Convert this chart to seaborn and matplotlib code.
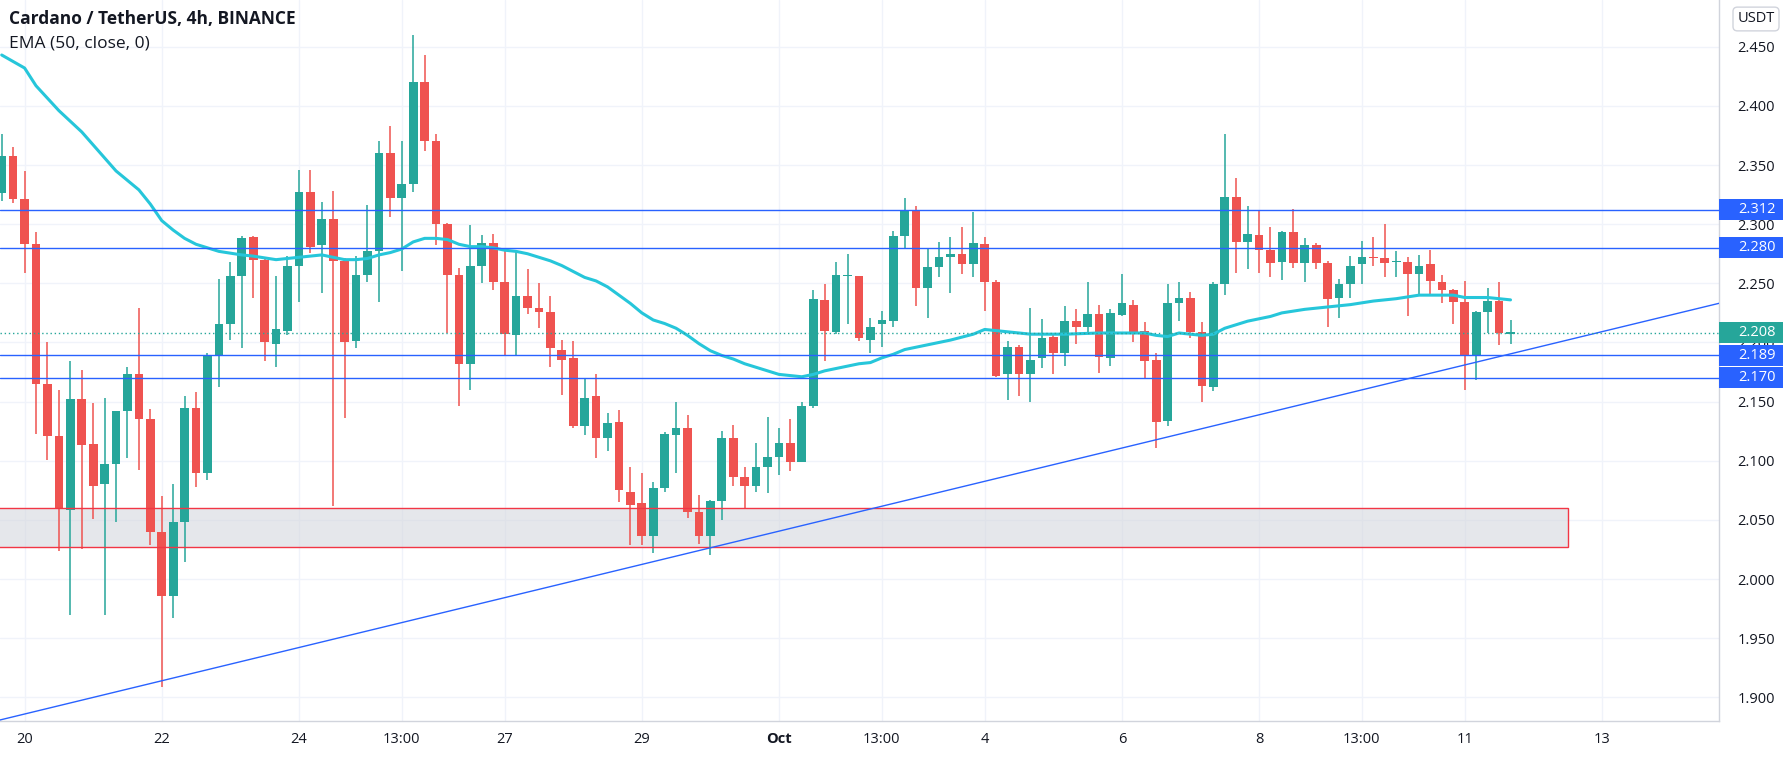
import numpy as np
import pandas as pd
import matplotlib
matplotlib.use("Agg")
import matplotlib.pyplot as plt
import matplotlib.transforms as mtrans
from matplotlib.patches import Rectangle
import seaborn as sns

# ---------------- data (ADA/USDT 4h candles) ----------------
opens = [2.326, 2.358, 2.321, 2.283, 2.165, 2.121, 2.058, 2.152, 2.114, 2.080,
         2.097, 2.142, 2.173, 2.135, 2.040, 1.986, 2.048, 2.145, 2.090, 2.189,
         2.216, 2.256, 2.289, 2.270, 2.199, 2.210, 2.265, 2.327, 2.282, 2.304,
         2.269, 2.201, 2.257, 2.277, 2.360, 2.322, 2.334, 2.420, 2.370, 2.300,
         2.257, 2.182, 2.265, 2.284, 2.251, 2.206, 2.239, 2.229, 2.226, 2.194,
         2.187, 2.129, 2.155, 2.119, 2.133, 2.074, 2.064, 2.036, 2.077, 2.122,
         2.128, 2.057, 2.036, 2.066, 2.119, 2.086, 2.079, 2.095, 2.103, 2.115,
         2.099, 2.146, 2.236, 2.209, 2.256, 2.256, 2.202, 2.216, 2.218, 2.290,
         2.311, 2.246, 2.264, 2.272, 2.275, 2.266, 2.283, 2.251, 2.173, 2.196,
         2.173, 2.187, 2.205, 2.191, 2.218, 2.213, 2.224, 2.187, 2.223, 2.232,
         2.210, 2.185, 2.134, 2.233, 2.238, 2.209, 2.162, 2.249, 2.323, 2.285,
         2.291, 2.278, 2.268, 2.293, 2.267, 2.282, 2.267, 2.238, 2.249, 2.266,
         2.272, 2.271, 2.268, 2.268, 2.258, 2.266, 2.251, 2.244, 2.234, 2.189,
         2.226, 2.235, 2.2075]
highs = [2.376, 2.365, 2.345, 2.293, 2.200, 2.160, 2.184, 2.177, 2.149, 2.153,
         2.142, 2.179, 2.229, 2.144, 2.070, 2.080, 2.155, 2.158, 2.191, 2.254,
         2.268, 2.290, 2.290, 2.271, 2.256, 2.273, 2.346, 2.346, 2.319, 2.328,
         2.271, 2.273, 2.316, 2.370, 2.383, 2.370, 2.460, 2.443, 2.376, 2.301,
         2.263, 2.299, 2.291, 2.292, 2.277, 2.277, 2.262, 2.250, 2.239, 2.202,
         2.201, 2.169, 2.173, 2.140, 2.143, 2.095, 2.090, 2.082, 2.124, 2.150,
         2.139, 2.071, 2.067, 2.125, 2.130, 2.095, 2.115, 2.137, 2.128, 2.135,
         2.150, 2.244, 2.249, 2.268, 2.275, 2.256, 2.221, 2.227, 2.294, 2.322,
         2.315, 2.279, 2.285, 2.289, 2.298, 2.310, 2.289, 2.253, 2.201, 2.198,
         2.229, 2.220, 2.208, 2.231, 2.228, 2.251, 2.232, 2.228, 2.258, 2.236,
         2.217, 2.191, 2.249, 2.251, 2.243, 2.217, 2.251, 2.376, 2.339, 2.315,
         2.312, 2.298, 2.294, 2.313, 2.288, 2.284, 2.269, 2.254, 2.273, 2.286,
         2.289, 2.300, 2.277, 2.272, 2.274, 2.278, 2.257, 2.245, 2.252, 2.227,
         2.246, 2.251, 2.219]
lows = [2.320, 2.318, 2.259, 2.123, 2.101, 2.024, 1.970, 2.025, 2.051, 1.970,
        2.048, 2.102, 2.092, 2.029, 1.909, 1.967, 2.014, 2.078, 2.084, 2.162,
        2.202, 2.195, 2.238, 2.184, 2.179, 2.206, 2.234, 2.276, 2.242, 2.062,
        2.136, 2.195, 2.251, 2.234, 2.306, 2.260, 2.327, 2.362, 2.282, 2.208,
        2.146, 2.160, 2.250, 2.244, 2.189, 2.189, 2.224, 2.212, 2.179, 2.156,
        2.128, 2.122, 2.102, 2.108, 2.065, 2.029, 2.029, 2.022, 2.074, 2.090,
        2.052, 2.030, 2.020, 2.050, 2.079, 2.059, 2.074, 2.073, 2.088, 2.091,
        2.099, 2.145, 2.184, 2.207, 2.216, 2.201, 2.191, 2.196, 2.213, 2.279,
        2.231, 2.221, 2.255, 2.242, 2.258, 2.255, 2.227, 2.171, 2.151, 2.155,
        2.150, 2.178, 2.173, 2.180, 2.199, 2.208, 2.174, 2.180, 2.222, 2.200,
        2.170, 2.111, 2.129, 2.218, 2.204, 2.150, 2.159, 2.240, 2.259, 2.262,
        2.259, 2.255, 2.253, 2.263, 2.251, 2.262, 2.213, 2.221, 2.238, 2.249,
        2.265, 2.255, 2.255, 2.222, 2.240, 2.241, 2.233, 2.216, 2.160, 2.168,
        2.208, 2.198, 2.199]
closes = [2.358, 2.321, 2.283, 2.165, 2.121, 2.059, 2.152, 2.113, 2.079, 2.097,
          2.142, 2.173, 2.135, 2.040, 1.986, 2.048, 2.145, 2.090, 2.189, 2.216,
          2.256, 2.288, 2.270, 2.200, 2.211, 2.265, 2.327, 2.281, 2.304, 2.269,
          2.200, 2.257, 2.277, 2.360, 2.322, 2.334, 2.420, 2.370, 2.300, 2.257,
          2.182, 2.265, 2.284, 2.251, 2.207, 2.239, 2.229, 2.226, 2.195, 2.185,
          2.129, 2.153, 2.119, 2.132, 2.075, 2.063, 2.036, 2.077, 2.123, 2.128,
          2.057, 2.036, 2.066, 2.119, 2.086, 2.079, 2.095, 2.103, 2.115, 2.099,
          2.146, 2.237, 2.210, 2.257, 2.257, 2.204, 2.213, 2.219, 2.290, 2.311,
          2.246, 2.264, 2.272, 2.275, 2.266, 2.284, 2.251, 2.172, 2.196, 2.173,
          2.185, 2.204, 2.191, 2.218, 2.213, 2.224, 2.188, 2.225, 2.233, 2.209,
          2.184, 2.133, 2.233, 2.238, 2.209, 2.163, 2.249, 2.323, 2.285, 2.292,
          2.278, 2.267, 2.293, 2.267, 2.282, 2.267, 2.237, 2.249, 2.265, 2.272,
          2.271, 2.267, 2.269, 2.258, 2.265, 2.252, 2.244, 2.234, 2.189, 2.226,
          2.235, 2.208, 2.208]

# EMA(50, close): candle index (0-based) -> value
ema_idx = [0, 2, 3, 5, 7, 9, 10, 11, 12, 13, 14, 15, 16, 17, 19, 21, 22, 24, 26, 28,
           29, 30, 31, 32, 33, 34, 35, 36, 37, 38, 39, 40, 41, 42, 43, 44, 45, 46, 47, 48,
           49, 50, 51, 52, 53, 54, 55, 56, 57, 58, 59, 60, 61, 62, 63, 64, 65, 66, 67, 68,
           69, 70, 71, 72, 73, 74, 75, 76, 77, 78, 79, 81, 83, 85, 86, 87, 88, 90, 93, 96,
           99, 100, 101, 102, 103, 104, 105, 106, 107, 108, 109, 111, 112, 114, 116, 118,
           120, 122, 124, 126, 127, 128, 130, 132]
ema_val = [2.443, 2.432, 2.417, 2.396, 2.378, 2.356, 2.345, 2.337, 2.329, 2.317,
           2.303, 2.295, 2.288, 2.283, 2.277, 2.274, 2.273, 2.270, 2.272, 2.274,
           2.272, 2.270, 2.270, 2.271, 2.274, 2.276, 2.279, 2.285, 2.288, 2.288,
           2.287, 2.283, 2.281, 2.281, 2.280, 2.278, 2.277, 2.275, 2.272, 2.269,
           2.265, 2.260, 2.255, 2.252, 2.247, 2.240, 2.233, 2.225, 2.219, 2.216,
           2.212, 2.206, 2.199, 2.193, 2.189, 2.186, 2.182, 2.179, 2.176, 2.173,
           2.172, 2.171, 2.173, 2.176, 2.178, 2.180, 2.182, 2.183, 2.187, 2.190,
           2.194, 2.198, 2.202, 2.207, 2.211, 2.210, 2.209, 2.207, 2.207, 2.208,
           2.208, 2.208, 2.206, 2.205, 2.208, 2.207, 2.206, 2.207, 2.212, 2.215,
           2.218, 2.222, 2.225, 2.228, 2.230, 2.232, 2.235, 2.237, 2.240, 2.240,
           2.240, 2.238, 2.238, 2.236]

# time axis labels at candle indices
tick_idx = [2, 14, 26, 35, 44, 56, 68, 77, 86, 98, 110, 119, 128, 140]
tick_lbl = ["20", "22", "24", "13:00", "27", "29", "Oct", "13:00", "4", "6", "8", "13:00", "11", "13"]
price_ticks = [1.900, 1.950, 2.000, 2.050, 2.100, 2.150, 2.200, 2.250, 2.300, 2.350, 2.400, 2.450]

# drawings
levels = [2.312, 2.280, 2.189, 2.170]
last_price = 2.208
zone_low, zone_high, zone_end = 2.027, 2.060, 137.0
trend_anchor_idx = [14, 128]
trend_anchor_price = [1.914, 2.181]

# ---------------- styling ----------------
UP, DOWN = "#26a69a", "#ef5350"
BLUE = "#2962ff"
EMA_C = "#26c6da"
TXT = "#131722"
GRID = "#f0f3fa"

sns.set_theme(style="white")
plt.rcParams["font.family"] = ["Open Sans", "DejaVu Sans"]

W, H = 1787, 757
fig = plt.figure(figsize=(W / 100, H / 100), dpi=100)
ax_right_px, ax_bottom_px = 1719, 721
ax = fig.add_axes([0, (H - ax_bottom_px) / H, ax_right_px / W, ax_bottom_px / H])

df = pd.DataFrame({"x": np.arange(len(opens)), "open": opens, "high": highs,
                   "low": lows, "close": closes})
df["up"] = df["close"] >= df["open"]
colors = np.where(df["up"], UP, DOWN)

ax.set_xlim(-0.15, 150.24)
ax.set_ylim(1.880, 2.4895)

# grid
for t in tick_idx:
    ax.axvline(t, color=GRID, lw=1, zorder=0)
for p in price_ticks:
    ax.axhline(p, color=GRID, lw=1, zorder=0)

# zone rectangle
ax.add_patch(Rectangle((-5, zone_low), zone_end + 5, zone_high - zone_low,
                       facecolor="#d1d4dc", alpha=0.55, edgecolor="none", zorder=1))
ax.add_patch(Rectangle((-5, zone_low), zone_end + 5, zone_high - zone_low,
                       facecolor="none", edgecolor="#f23645", lw=1, zorder=5))

# candles
ax.vlines(df["x"], df["low"], df["high"], colors=colors, lw=1.1, zorder=3)
body_bottom = np.minimum(df["open"], df["close"])
body_h = np.maximum(np.abs(df["close"] - df["open"]), 0.0012)
ax.bar(df["x"], body_h, bottom=body_bottom, width=0.76, color=colors,
       linewidth=0, zorder=4)

# EMA
ema_df = pd.DataFrame({"x": ema_idx, "ema": ema_val})
sns.lineplot(data=ema_df, x="x", y="ema", ax=ax, color=EMA_C, lw=2.2, zorder=6)

# horizontal levels and trend line
for lv in levels:
    ax.axhline(lv, color=BLUE, lw=1, zorder=6)
ax.axline((trend_anchor_idx[0], trend_anchor_price[0]),
          (trend_anchor_idx[1], trend_anchor_price[1]), color=BLUE, lw=1, zorder=6)
ax.axhline(last_price, color=UP, lw=1, ls=(0, (1, 2)), zorder=6)

# axes cosmetics
ax.set_xlabel("")
ax.set_ylabel("")
ax.set_xticks(tick_idx)
ax.set_xticklabels(tick_lbl)
for lbl in ax.get_xticklabels():
    if lbl.get_text() == "Oct":
        lbl.set_fontweight("bold")
ax.yaxis.tick_right()
ax.set_yticks(price_ticks)
ax.set_yticklabels([f"{p:.3f}" for p in price_ticks])
ax.tick_params(axis="both", length=0, labelsize=10.5, colors=TXT)
ax.tick_params(axis="y", pad=13.5)
ax.tick_params(axis="x", pad=8)
for s in ["top", "left"]:
    ax.spines[s].set_visible(False)
for s in ["right", "bottom"]:
    ax.spines[s].set_color("#d1d4dc")
    ax.spines[s].set_linewidth(1)
ax.set_facecolor("white")
fig.patch.set_facecolor("white")

# price labels on the axis
trans = mtrans.blended_transform_factory(ax.transAxes, ax.transData)
px_price = (2.4895 - 1.880) / ax_bottom_px
half = 10.5 * px_price
box_w = 64 / ax_right_px
text_x = (1738) / ax_right_px
for lv, col in [(l, BLUE) for l in levels] + [(last_price, UP)]:
    ax.add_patch(Rectangle((1.0, lv - half), box_w, 2 * half, transform=trans,
                           facecolor=col, edgecolor="none", clip_on=False, zorder=10))
    ax.text(text_x, lv, f"{lv:.3f}", transform=trans, ha="left", va="center",
            color="white", fontsize=10.5, zorder=11, clip_on=False)

# titles
fig.text(9 / W, 1 - 19 / H, "Cardano / TetherUS, 4h, BINANCE", ha="left", va="center",
         fontsize=12.5, fontweight="bold", color=TXT)
fig.text(9 / W, 1 - 43 / H, "EMA (50, close, 0)", ha="left", va="center",
         fontsize=12.5, color=TXT)
fig.text(1756 / W, 1 - 19 / H, "USDT", ha="center", va="center", fontsize=10.5, color=TXT,
         bbox=dict(boxstyle="round,pad=0.3", fc="white", ec="#d1d4dc", lw=1))

fig.savefig("out.png", dpi=100, facecolor="white")
